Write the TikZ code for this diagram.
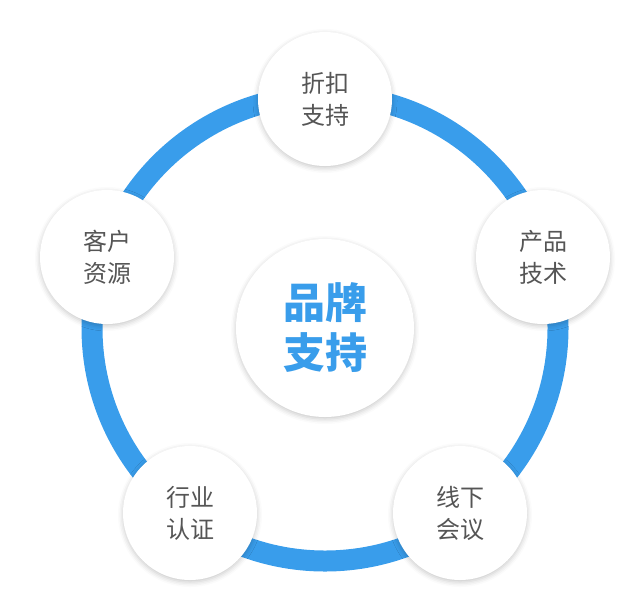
\documentclass[tikz,border=0pt]{standalone}
\usepackage{fontspec}
\newfontfamily\cjk{Noto Sans CJK SC}
\usepackage{tikz}
\usepackage{xcolor}
\usetikzlibrary{shadows.blur}
\definecolor{ringblue}{RGB}{57,157,235}
\definecolor{labelgray}{RGB}{85,85,85}
\tikzset{every picture/.style={line width=0.75pt}}
\tikzset{
  item/.style={circle, fill=white, minimum size=134pt, inner sep=0pt, align=center,
    font=\cjk\fontsize{24}{32}\selectfont, text=labelgray,
    blur shadow={shadow xshift=0pt, shadow yshift=-2pt, shadow blur radius=5pt, shadow opacity=22}},
  hub/.style={item, minimum size=178pt, font=\cjk\bfseries\fontsize{42}{50}\selectfont, text=ringblue}
}

\begin{document}
\begin{tikzpicture}[x=1pt,y=1pt,yscale=-1,xscale=1]
\path[use as bounding box] (0,0) rectangle (644,613);

%Shape: Ring
\draw[ringblue, line width=21pt] (325,328) circle [radius=233];

%Shape: Center Circle
\node[hub] (brand) at (325,328) {品牌\\支持};

% Item Circles
\node[item] (discount) at (325,99) {折扣\\支持};
\node[item] (product) at (543,257) {产品\\技术};
\node[item] (meeting) at (460,513) {线下\\会议};
\node[item] (industry) at (190,513) {行业\\认证};
\node[item] (customer) at (107,257) {客户\\资源};

\end{tikzpicture}
\end{document}
